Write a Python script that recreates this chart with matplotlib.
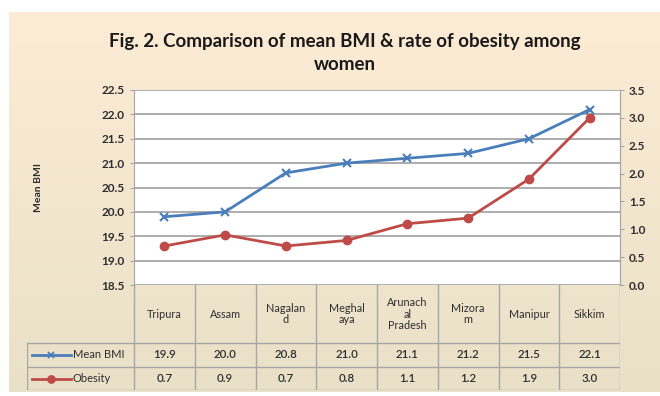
import numpy as np
import matplotlib.pyplot as plt

plt.rcParams["font.family"] = ["Lato", "DejaVu Sans"]

states = ["Tripura", "Assam", "Nagalan\nd", "Meghal\naya", "Arunach\nal\nPradesh",
          "Mizora\nm", "Manipur", "Sikkim"]
mean_bmi = [19.9, 20.0, 20.8, 21.0, 21.1, 21.2, 21.5, 22.1]
obesity = [0.7, 0.9, 0.7, 0.8, 1.1, 1.2, 1.9, 3.0]
bmi_ticks = [18.5, 19.0, 19.5, 20.0, 20.5, 21.0, 21.5, 22.0, 22.5]
ob_ticks = [0.0, 0.5, 1.0, 1.5, 2.0, 2.5, 3.0, 3.5]

W, H = 660, 396
blue = "#4A7EBB"
red = "#BE4B48"
grid_c = "#A6A6A6"
txt_c = "#2E2E2E"

fig = plt.figure(figsize=(W / 100, H / 100), dpi=100)
fig.patch.set_facecolor("white")

# beige gradient background
bg = fig.add_axes([9 / W, 4 / H, 1 - 9 / W, (392 - 12) / H])
grad = np.linspace(0, 1, 256).reshape(-1, 1)
top = np.array([0.992, 0.925, 0.835])
bot = np.array([0.915, 0.880, 0.785])
img = top + (bot - top) * grad[:, :, None]
bg.imshow(img, aspect="auto", extent=[0, 1, 0, 1])
bg.set_axis_off()

fig.text(345 / W, 1 - 41 / H, "Fig. 2. Comparison of mean BMI & rate of obesity among",
         ha="center", va="center", fontsize=13.5, fontweight="bold", color="#1a1a1a")
fig.text(345 / W, 1 - 65 / H, "women", ha="center", va="center",
         fontsize=13.5, fontweight="bold", color="#1a1a1a")

# main plot area
px_l, px_r, px_t, px_b = 134, 620, 90, 285
ax = fig.add_axes([px_l / W, 1 - px_b / H, (px_r - px_l) / W, (px_b - px_t) / H])
ax.set_facecolor("white")
x = np.arange(len(states))
ax.set_xlim(-0.5, len(states) - 0.5)
ax.set_ylim(bmi_ticks[0], bmi_ticks[-1])
ax.set_yticks(bmi_ticks)
ax.set_yticklabels([f"{t:.1f}" for t in bmi_ticks])
ax.set_xticks([])
ax.grid(axis="y", color=grid_c, linewidth=1.3)
ax.set_axisbelow(True)
for s in ["top", "bottom"]:
    ax.spines[s].set_visible(False)
for s in ["left", "right"]:
    ax.spines[s].set_color(grid_c)
ax.tick_params(axis="y", colors=grid_c, labelcolor=txt_c, labelsize=8.5, length=3)
for lab in ax.get_yticklabels():
    lab.set_fontweight("bold")
ax.set_ylabel("Mean BMI", fontsize=7.5, fontweight="bold", color=txt_c, labelpad=42)

ax.plot(x, mean_bmi, color=blue, lw=2, marker="x", ms=6, mew=1.5, zorder=3)

ax2 = ax.twinx()
ax2.set_ylim(ob_ticks[0], ob_ticks[-1])
ax2.set_yticks(ob_ticks)
ax2.set_yticklabels([f"{t:.1f}" for t in ob_ticks])
ax2.tick_params(axis="y", colors=grid_c, labelcolor=txt_c, labelsize=8.5, length=3)
for lab in ax2.get_yticklabels():
    lab.set_fontweight("bold")
for s in ["top", "bottom", "left"]:
    ax2.spines[s].set_visible(False)
ax2.spines["right"].set_color(grid_c)
ax2.plot(x, obesity, color=red, lw=2, marker="o", ms=6, zorder=3)

# data table below the plot
t_l, t_b = 27, 390
unit = (px_r - px_l) / len(states)
tx0 = -0.5 - (px_l - t_l) / unit
tab = fig.add_axes([t_l / W, 1 - t_b / H, (px_r - t_l) / W, (t_b - px_b) / H])
tab.set_xlim(tx0, len(states) - 0.5)
tab.set_ylim(t_b - px_b, 0)
tab.set_axis_off()
rows = [0, 58, 82, 105]
lc = dict(color=grid_c, lw=1)
for i in range(len(states) + 1):
    tab.plot([i - 0.5, i - 0.5], [rows[0], rows[3]], **lc)
tab.plot([tx0, tx0], [rows[1], rows[3]], **lc)
for r in rows[1:]:
    tab.plot([tx0, len(states) - 0.5], [r, r], **lc)

for i, s in enumerate(states):
    tab.text(i, (rows[0] + rows[1]) / 2, s, ha="center", va="center",
             fontsize=7.8, color=txt_c, linespacing=1.1)
    tab.text(i, (rows[1] + rows[2]) / 2, f"{mean_bmi[i]:.1f}", ha="center", va="center",
             fontsize=8.3, color=txt_c, fontweight="semibold")
    tab.text(i, (rows[2] + rows[3]) / 2, f"{obesity[i]:.1f}", ha="center", va="center",
             fontsize=8.3, color=txt_c, fontweight="semibold")

sym_x = [tx0 + 0.08, tx0 + 0.72]
for (r0, r1), name, col, mk in [((rows[1], rows[2]), "Mean BMI", blue, "x"),
                                ((rows[2], rows[3]), "Obesity", red, "o")]:
    yc = (r0 + r1) / 2
    tab.plot(sym_x, [yc, yc], color=col, lw=2)
    tab.plot([np.mean(sym_x)], [yc], color=col, marker=mk, ms=5, mew=1.3)
    tab.text(sym_x[1] + 0.03, yc, name, ha="left", va="center", fontsize=8, color=txt_c)

fig.savefig("out.png", dpi=100)
